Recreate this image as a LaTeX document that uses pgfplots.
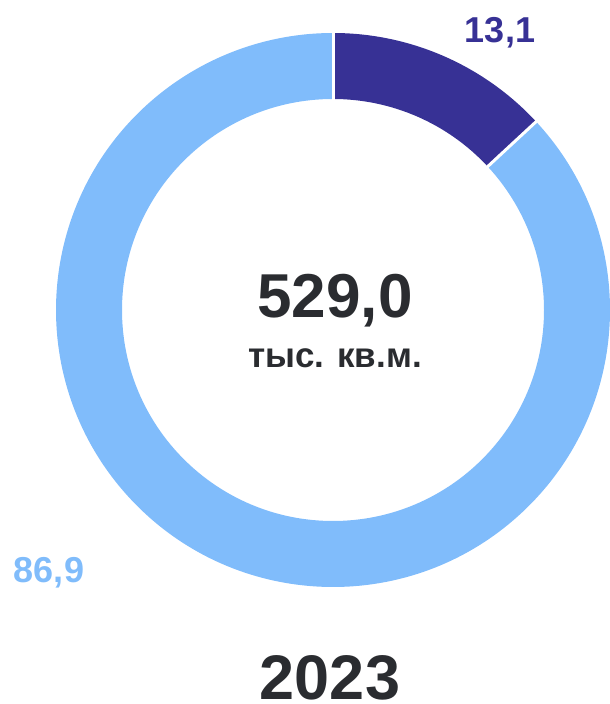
\documentclass[border=0pt]{standalone}
\usepackage{pgfplots}
\usepackage{pgfplotstable}
\pgfplotsset{compat=1.18}
\usepackage{fontspec}
\setmainfont{Liberation Sans}
\definecolor{darkseg}{HTML}{373195}
\definecolor{lightseg}{HTML}{80BCFB}
\definecolor{txt}{HTML}{2A2C30}
\pgfplotstableread{
share label
13.1 {13,1}
86.9 {86,9}
}\sharetable
\begin{document}
\begin{tikzpicture}
\pgfplotstablegetelem{0}{share}\of\sharetable \let\va\pgfplotsretval
\pgfplotstablegetelem{1}{share}\of\sharetable \let\vb\pgfplotsretval
\pgfmathsetmacro{\aA}{90}
\pgfmathsetmacro{\aB}{90-3.6*\va}
\pgfmathsetmacro{\aC}{\aB-3.6*\vb}
\begin{axis}[x=1pt,y=1pt,xmin=0,xmax=610,ymin=0,ymax=704,hide axis,clip=false,scale only axis]
\path (axis cs:0,0) rectangle (axis cs:610,704);
% dark segment
\fill[darkseg,overlay] (axis cs:333,394) ++(\aA:277) arc[start angle=\aA,end angle=\aB,radius=277] -- ++(\aB+180:66) arc[start angle=\aB,end angle=\aA,radius=211] -- cycle;
% light segment
\fill[lightseg,overlay] (axis cs:333,394) ++(\aB:277) arc[start angle=\aB,end angle=\aC,radius=277] -- ++(\aC+180:66) arc[start angle=\aC,end angle=\aB,radius=211] -- cycle;
% separators
\draw[white,line width=3pt,overlay] (axis cs:333,394) ++(\aA:205) -- ++(\aA:80);
\draw[white,line width=3pt,overlay] (axis cs:333,394) ++(\aB:205) -- ++(\aB:80);
% labels
\node[overlay,anchor=base,text=darkseg,font=\fontsize{36}{36}\selectfont\bfseries,inner sep=0pt] at (axis cs:500,661) {13,1};
\node[overlay,anchor=base,text=lightseg,font=\fontsize{36}{36}\selectfont\bfseries,inner sep=0pt] at (axis cs:49,121) {86,9};
\node[overlay,anchor=base,text=txt,font=\fontsize{62}{62}\selectfont\bfseries,inner sep=0pt] at (axis cs:335,386) {529,0};
\node[overlay,anchor=base,text=txt,font=\fontsize{35}{35}\selectfont\bfseries,inner sep=0pt] at (axis cs:335,336) {тыс. кв.м.};
\node[overlay,anchor=base,text=txt,font=\fontsize{63}{63}\selectfont\bfseries,inner sep=0pt] at (axis cs:330,5) {2023};
\end{axis}
\end{tikzpicture}
\end{document}
